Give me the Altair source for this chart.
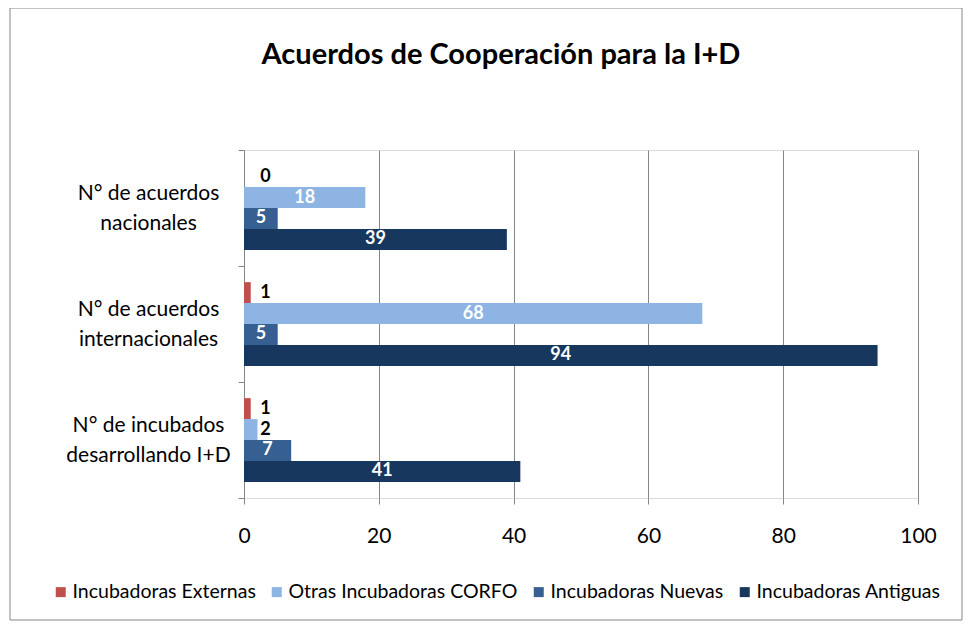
import altair as alt
import pandas as pd

categories = ["N° de acuerdos|nacionales", "N° de acuerdos|internacionales", "N° de incubados|desarrollando I+D"]
series = ["Incubadoras Externas", "Otras Incubadoras CORFO", "Incubadoras Nuevas", "Incubadoras Antiguas"]
externas = [0, 1, 1]
otras = [18, 68, 2]
nuevas = [5, 5, 7]
antiguas = [39, 94, 41]
colors = ["#C0504D", "#8EB4E3", "#376092", "#17375E"]
x_ticks = [0, 20, 40, 60, 80, 100]

rows = []
for s, vals in zip(series, [externas, otras, nuevas, antiguas]):
    for c, v in zip(categories, vals):
        rows.append({"cat": c, "serie": s, "valor": v})
df = pd.DataFrame(rows)

FONT = "Lato"
GRID = "#868686"

y_enc = alt.Y(
    "cat:N", sort=categories,
    scale=alt.Scale(paddingInner=0, paddingOuter=0),
    axis=alt.Axis(title=None, labelExpr="split(datum.label, '|')", labelAlign="center",
                  labelBaseline="middle", labelOffset=-15, labelPadding=90, labelFontSize=21,
                  labelLineHeight=30, labelColor="#000000", labelFont=FONT, labelLimit=300,
                  tickBand="extent", tickSize=6, tickColor=GRID, domainColor=GRID, grid=False),
)
yoff_enc = alt.YOffset("serie:N", sort=series, scale=alt.Scale(paddingInner=0, paddingOuter=0.77))

x_enc = alt.X(
    "valor:Q", scale=alt.Scale(domain=[0, 100], nice=False),
    axis=alt.Axis(title=None, values=x_ticks, grid=True, gridColor=GRID, domain=False,
                  tickSize=6, tickColor=GRID, labelFontSize=21, labelPadding=21, labelFlush=False,
                  labelColor="#000000", labelFont=FONT),
)

bars = alt.Chart(df).mark_bar().encode(
    x=x_enc, y=y_enc, yOffset=yoff_enc,
    color=alt.Color("serie:N", sort=series,
                    scale=alt.Scale(domain=series, range=colors),
                    legend=alt.Legend(title=None, orient="none", legendX=-193, legendY=432,
                                      direction="horizontal", symbolType="square", symbolSize=100,
                                      symbolStrokeWidth=0, labelFontSize=19.5, labelFont=FONT,
                                      labelLimit=400, labelColor="#000000", columnPadding=11,
                                      labelOffset=2)),
)

labels = alt.Chart(df).transform_calculate(
    lx="datum.valor >= 5 ? datum.valor / 2 : 3.2",
    lc="datum.valor >= 5 ? 'white' : 'black'",
).mark_text(font=FONT, fontSize=18, fontWeight="bold", align="center", baseline="middle").encode(
    x="lx:Q", y=alt.Y("cat:N", sort=categories), yOffset=alt.YOffset("serie:N", sort=series),
    text="valor:Q", color=alt.Color("lc:N", scale=None),
)

border = alt.Chart(alt.Data(values=[{"a": 1}])).mark_rect(
    fillOpacity=0, stroke=GRID, strokeWidth=1
).encode(x=alt.value(-234), x2=alt.value(718), y=alt.value(-142), y2=alt.value(470))

chart = alt.layer(border, bars, labels).properties(
    width=674, height=348,
    autosize="none",
    padding={"left": 236, "top": 142, "right": 46, "bottom": 126},
    title=alt.TitleParams("Acuerdos de Cooperación para la I+D", fontSize=29, fontWeight="bold",
                          font=FONT, color="#000000", dx=-80, offset=-62, anchor="middle"),
).configure_view(strokeWidth=0).configure(font=FONT)

chart.save("out.html", embed_options={"renderer": "svg", "actions": False})
